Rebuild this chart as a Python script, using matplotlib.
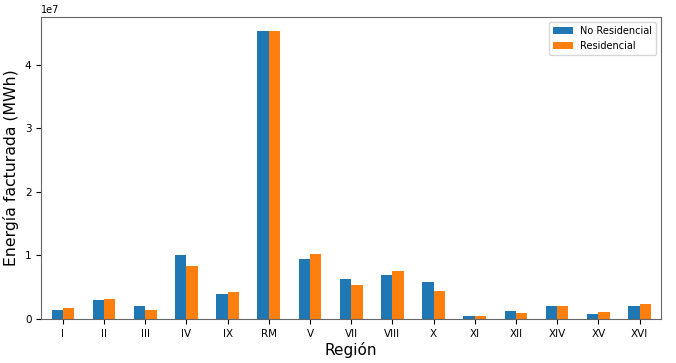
import numpy as np
import pandas as pd
import matplotlib
matplotlib.use('Agg')
import matplotlib.pyplot as plt

regiones = ['I', 'II', 'III', 'IV', 'IX', 'RM', 'V', 'VII', 'VIII', 'X',
            'XI', 'XII', 'XIV', 'XV', 'XVI']
no_residencial = [0.136e7, 0.30e7, 0.21e7, 1.0e7, 0.40e7, 4.52e7, 0.95e7, 0.63e7,
                  0.69e7, 0.575e7, 0.047e7, 0.125e7, 0.21e7, 0.078e7, 0.20e7]
residencial = [0.167e7, 0.31e7, 0.136e7, 0.84e7, 0.42e7, 4.52e7, 1.02e7, 0.53e7,
               0.75e7, 0.44e7, 0.047e7, 0.094e7, 0.20e7, 0.11e7, 0.24e7]

df = pd.DataFrame({'No Residencial': no_residencial, 'Residencial': residencial},
                  index=regiones)

fig, ax = plt.subplots(figsize=(6.76, 3.63), dpi=100)
df.plot(kind='bar', ax=ax, rot=0, fontsize=7.5, width=0.55)
ax.set_xlabel('Región', fontsize=11, labelpad=2)
ax.set_ylabel('Energía facturada (MWh)', fontsize=11.3)
ax.yaxis.get_offset_text().set_fontsize(7)
ax.legend(fontsize=7, loc='upper right')
for s in ax.spines.values():
    s.set_color('#666666')
fig.subplots_adjust(left=0.061, right=0.978, top=0.953, bottom=0.121)
fig.savefig('out.png', dpi=100)
